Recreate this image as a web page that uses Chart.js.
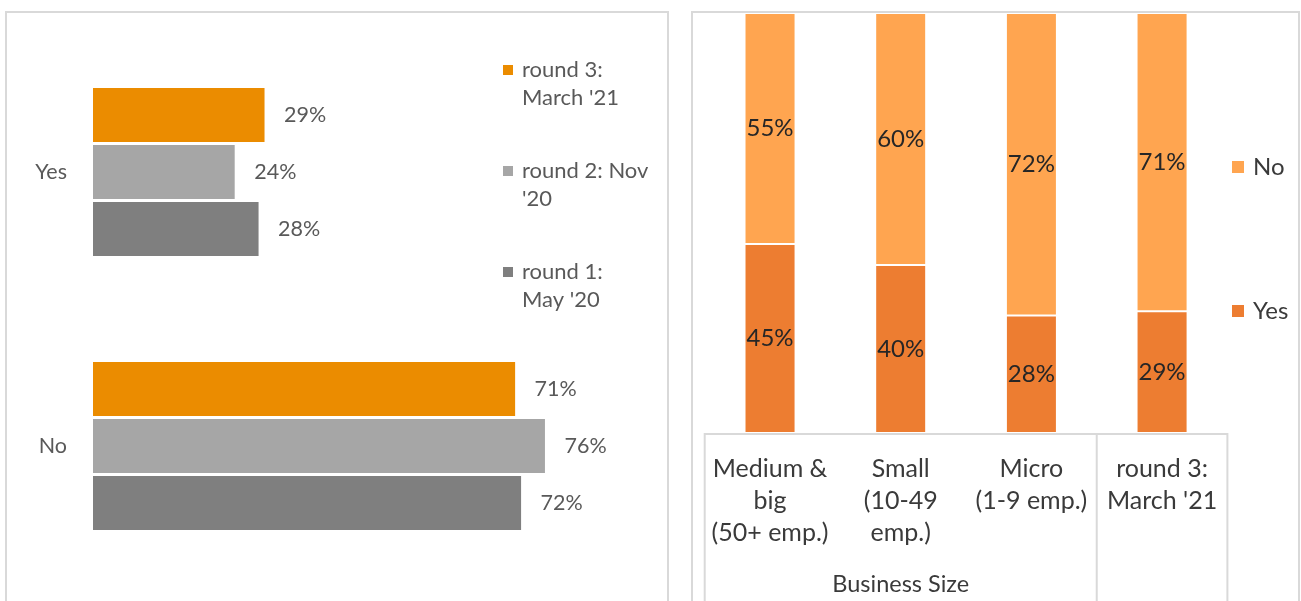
<!DOCTYPE html>
<html>
<head>
<meta charset="utf-8">
<script src="https://cdn.jsdelivr.net/npm/chart.js@4/dist/chart.umd.min.js"></script>
<style>
  html, body { margin: 0; padding: 0; background: #ffffff; }
  body { width: 1301px; height: 601px; position: relative; overflow: hidden; }
  .panel { position: absolute; border: 2px solid #d9d9d9; border-bottom: none; box-sizing: border-box; }
  #panelLeft { left: 5px; top: 11px; width: 664px; height: 620px; }
  #panelRight { left: 691px; top: 11px; width: 609px; height: 620px; }
  canvas { position: absolute; top: 0; }
  #roundsChart { left: 0; }
  #sizeChart { left: 680px; }
</style>
</head>
<body>
<div class="panel" id="panelLeft"></div>
<div class="panel" id="panelRight"></div>
<canvas id="roundsChart" width="680" height="601"></canvas>
<canvas id="sizeChart" width="621" height="601"></canvas>
<script>
// Answers by survey round
const answerCategories = ['Yes', 'No'];
const roundNames = [["round 3:", "March '21"], ["round 2: Nov", "'20"], ["round 1:", "May '20"]];
const round3Values = [0.29, 0.71];
const round2Values = [0.24, 0.76];
const round1Values = [0.28, 0.72];
const roundColors = ['#EB8C00', '#A6A6A6', '#7F7F7F'];

// Round 3 answers by business size
const sizeCategories = [["Medium &", "big", "(50+ emp.)"], ["Small", "(10-49", "emp.)"], ["Micro", "(1-9 emp.)"], ["round 3:", "March '21"]];
const sizeGroupLabel = 'Business Size';
const sizeGroupSpan = 3; // first three categories belong to the size group
const yesShare = [0.45, 0.40, 0.28, 0.29];
const noShare = [0.55, 0.60, 0.72, 0.71];
const answerColors = { Yes: '#ED7D31', No: '#FFA550' };

const FONT = 'Lato, "Open Sans", sans-serif';
const pct = v => Math.round(v * 100) + '%';

// ---------- left: grouped horizontal bars ----------
const roundSeries = [round3Values, round2Values, round1Values];

const roundLabelsPlugin = {
  id: 'roundLabels',
  afterDatasetsDraw(chart) {
    const ctx = chart.ctx;
    ctx.save();
    ctx.font = '21.5px ' + FONT;
    ctx.fillStyle = '#595959';
    ctx.textAlign = 'left';
    ctx.textBaseline = 'middle';
    chart.data.datasets.forEach((ds, i) => {
      chart.getDatasetMeta(i).data.forEach((bar, j) => {
        ctx.fillText(pct(ds.data[j]), bar.x + 18, bar.y);
      });
    });
    ctx.restore();
  },
  afterDraw(chart) {
    // legend with wrapped series names
    const ctx = chart.ctx;
    ctx.save();
    ctx.font = '22px ' + FONT;
    ctx.textAlign = 'left';
    ctx.textBaseline = 'middle';
    chart.data.datasets.forEach((ds, i) => {
      const y0 = 70 + i * 101;
      ctx.fillStyle = ds.backgroundColor;
      ctx.fillRect(503, y0 - 5, 10, 10);
      ctx.fillStyle = '#595959';
      ds.nameLines.forEach((line, k) => ctx.fillText(line, 522, y0 + k * 28));
    });
    ctx.restore();
  }
};

new Chart(document.getElementById('roundsChart'), {
  type: 'bar',
  data: {
    labels: answerCategories,
    datasets: roundSeries.map((vals, i) => ({
      label: roundNames[i].join(' '),
      nameLines: roundNames[i],
      data: vals,
      backgroundColor: roundColors[i],
      borderColor: '#ffffff',
      borderWidth: 1.5,
      borderSkipped: 'start',
      categoryPercentage: 0.624,
      barPercentage: 1
    }))
  },
  options: {
    indexAxis: 'y',
    responsive: false,
    animation: false,
    layout: { padding: { left: 0, top: 35, bottom: 18, right: 53 } },
    plugins: { legend: { display: false }, tooltip: { enabled: false } },
    scales: {
      x: { display: false, min: 0, max: 0.895 },
      y: {
        grid: { display: false, drawTicks: false },
        border: { display: false },
        ticks: { padding: 26, color: '#595959', font: { family: FONT, size: 21.5 } },
        afterFit(scale) {
          scale.width = 93;
          scale.paddingTop = 0;
          scale.paddingBottom = 0;
        }
      }
    }
  },
  plugins: [roundLabelsPlugin]
});

// ---------- right: 100% stacked columns ----------
const sizeDecorPlugin = {
  id: 'sizeDecor',
  afterDatasetsDraw(chart) {
    const ctx = chart.ctx;
    ctx.save();
    ctx.font = '24px ' + FONT;
    ctx.fillStyle = '#262626';
    ctx.textAlign = 'center';
    ctx.textBaseline = 'middle';
    chart.data.datasets.forEach((ds, i) => {
      chart.getDatasetMeta(i).data.forEach((bar, j) => {
        ctx.fillText(pct(ds.data[j]), bar.x, (bar.y + bar.base) / 2);
      });
    });
    ctx.restore();
  },
  afterDraw(chart) {
    const ctx = chart.ctx;
    const area = chart.chartArea;
    const xs = chart.scales.x;
    const bottom = chart.height;
    const split = (xs.getPixelForValue(sizeGroupSpan - 1) + xs.getPixelForValue(sizeGroupSpan)) / 2;
    ctx.save();
    // category table lines
    ctx.strokeStyle = '#d9d9d9';
    ctx.lineWidth = 2;
    ctx.beginPath();
    ctx.moveTo(area.left, area.bottom + 1); ctx.lineTo(area.right, area.bottom + 1);
    [area.left, split, area.right].forEach(x => { ctx.moveTo(x, area.bottom); ctx.lineTo(x, bottom); });
    ctx.stroke();
    // group label
    ctx.font = '23.5px ' + FONT;
    ctx.fillStyle = '#3a3a3a';
    ctx.textAlign = 'center';
    ctx.textBaseline = 'middle';
    ctx.fillText(sizeGroupLabel, (area.left + split) / 2, 584);
    // legend: top series first
    ctx.font = '24px ' + FONT;
    const items = chart.data.datasets.slice().reverse();
    const centers = [167, 311];
    items.forEach((ds, i) => {
      ctx.fillStyle = ds.backgroundColor;
      ctx.fillRect(552, centers[i] - 6, 12, 12);
      ctx.fillStyle = '#3a3a3a';
      ctx.textAlign = 'left';
      ctx.fillText(ds.label, 573, centers[i]);
    });
    ctx.restore();
  }
};

new Chart(document.getElementById('sizeChart'), {
  type: 'bar',
  data: {
    labels: sizeCategories,
    datasets: [
      { label: 'Yes', data: yesShare, backgroundColor: answerColors.Yes },
      { label: 'No', data: noShare, backgroundColor: answerColors.No }
    ].map(ds => Object.assign(ds, {
      borderColor: '#ffffff',
      borderWidth: { top: 1, bottom: 1, left: 0.5, right: 0.5 },
      borderSkipped: false,
      categoryPercentage: 0.383,
      barPercentage: 1
    }))
  },
  options: {
    responsive: false,
    animation: false,
    layout: { padding: { left: 24.7, right: 73.6, top: 13, bottom: 0 } },
    plugins: { legend: { display: false }, tooltip: { enabled: false } },
    scales: {
      x: {
        stacked: true,
        grid: { display: false, drawTicks: false },
        border: { display: false },
        ticks: {
          padding: 20, maxRotation: 0, autoSkip: false, color: '#3a3a3a',
          font: { family: FONT, size: 25, lineHeight: 32 / 25 }
        },
        afterFit(scale) { scale.height = 168; }
      },
      y: { display: false, stacked: true, min: 0, max: 1 }
    }
  },
  plugins: [sizeDecorPlugin]
});
</script>
</body>
</html>
